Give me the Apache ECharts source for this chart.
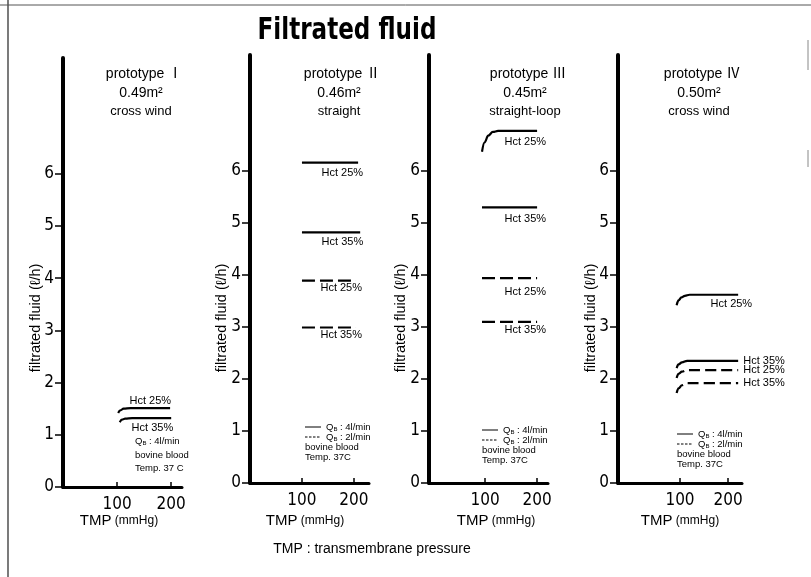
<!DOCTYPE html>
<html><head><meta charset="utf-8">
<script src="https://cdn.jsdelivr.net/npm/echarts@6/dist/echarts.min.js"></script>
<style>html,body{margin:0;padding:0;background:#fff}#c{width:811px;height:577px}</style>
</head><body><div id="c"></div>
<script>
// ---------- data ----------
const chartTitle = 'Filtrated fluid';
const panelNames = ['prototype Ⅰ', 'prototype Ⅱ', 'prototype Ⅲ', 'prototype Ⅳ'];
const panelAreas = ['0.49m²', '0.46m²', '0.45m²', '0.50m²'];
const panelTypes = ['cross wind', 'straight', 'straight-loop', 'cross wind'];
const xTickValues = [100, 200];
const yTickValues = [0, 1, 2, 3, 4, 5, 6];
const yAxisName = 'filtrated fluid (ℓ/h)';
const footnote = 'TMP : transmembrane pressure';

// [TMP mmHg, filtrated fluid l/h]
const p1Hct25Qb4 = [[102, 1.42], [106, 1.47], [112, 1.50], [125, 1.51], [198, 1.51]];
const p1Hct35Qb4 = [[105, 1.24], [109, 1.29], [115, 1.31], [128, 1.32], [200, 1.32]];
const p2Hct25Qb4 = [[100, 6.16], [208, 6.16]];
const p2Hct35Qb4 = [[100, 4.82], [212, 4.82]];
const p2Hct25Qb2 = [[100, 3.89], [204, 3.89]];
const p2Hct35Qb2 = [[100, 2.99], [204, 2.99]];
const p3Hct25Qb4 = [[94, 6.37], [99, 6.55], [106, 6.68], [115, 6.75], [125, 6.77], [200, 6.77]];
const p3Hct35Qb4 = [[94, 5.30], [200, 5.30]];
const p3Hct25Qb2 = [[94, 3.94], [200, 3.94]];
const p3Hct35Qb2 = [[94, 3.10], [200, 3.10]];
const p4Hct25Qb4 = [[93, 3.42], [97, 3.51], [103, 3.57], [110, 3.60], [120, 3.62], [221, 3.62]];
const p4Hct35Qb4 = [[93, 2.21], [97, 2.28], [104, 2.32], [115, 2.35], [221, 2.35]];
const p4Hct25Qb2 = [[93, 2.02], [97, 2.10], [104, 2.14], [115, 2.17], [221, 2.17]];
const p4Hct35Qb2 = [[93, 1.73], [97, 1.82], [104, 1.88], [115, 1.92], [221, 1.92]];

// ---------- layout / style ----------
const TXT = '"Liberation Sans", Arial, "Noto Sans CJK JP", sans-serif';
const NARROW = '"Liberation Sans Narrow", "DejaVu Sans Condensed", "Roboto Condensed", "Liberation Sans", sans-serif';
const grids = [
  { left: 63, top: 58, width: 119, height: 429 },
  { left: 250, top: 55, width: 119, height: 428 },
  { left: 429, top: 55, width: 119, height: 428 },
  { left: 618, top: 55, width: 124, height: 428 }
];
const xRange = [[0, 220], [0, 229], [-8, 221], [-29, 229]];
const yMax = [8.22, 8.23, 8.23, 8.23];
const titleCx = [144, 342, 528, 702];
const yNameX = [36, 222, 401, 591];
const xNameCx = [119, 305, 496, 680];

const seriesDefs = [
  { p: 0, d: p1Hct25Qb4, t: 'Hct 25%', dash: false, lab: { position: 'top', distance: 2, offset: [1, 0], align: 'right' } },
  { p: 0, d: p1Hct35Qb4, t: 'Hct 35%', dash: false, lab: { position: 'bottom', distance: 4, offset: [2, 0], align: 'right' } },
  { p: 1, d: p2Hct25Qb4, t: 'Hct 25%', dash: false, lab: { position: 'bottom', distance: 5, offset: [5, 0], align: 'right' } },
  { p: 1, d: p2Hct35Qb4, t: 'Hct 35%', dash: false, lab: { position: 'bottom', distance: 4, offset: [3, 0], align: 'right' } },
  { p: 1, d: p2Hct25Qb2, t: 'Hct 25%', dash: true, lab: { position: 'bottom', distance: 2, offset: [6, 0], align: 'right' } },
  { p: 1, d: p2Hct35Qb2, t: 'Hct 35%', dash: true, lab: { position: 'bottom', distance: 2, offset: [6, 0], align: 'right' } },
  { p: 2, d: p3Hct25Qb4, t: 'Hct 25%', dash: false, lab: { position: 'bottom', distance: 5, offset: [9, 0], align: 'right' } },
  { p: 2, d: p3Hct35Qb4, t: 'Hct 35%', dash: false, lab: { position: 'bottom', distance: 6, offset: [9, 0], align: 'right' } },
  { p: 2, d: p3Hct25Qb2, t: 'Hct 25%', dash: true, lab: { position: 'bottom', distance: 8, offset: [9, 0], align: 'right' } },
  { p: 2, d: p3Hct35Qb2, t: 'Hct 35%', dash: true, lab: { position: 'bottom', distance: 3, offset: [9, 0], align: 'right' } },
  { p: 3, d: p4Hct25Qb4, t: 'Hct 25%', dash: false, lab: { position: 'bottom', distance: 4, offset: [14, 0], align: 'right' } },
  { p: 3, d: p4Hct35Qb4, t: 'Hct 35%', dash: false, lab: { position: 'right', distance: 5, offset: [0, 0] } },
  { p: 3, d: p4Hct25Qb2, t: 'Hct 25%', dash: true, lab: { position: 'right', distance: 5, offset: [0, 0] } },
  { p: 3, d: p4Hct35Qb2, t: 'Hct 35%', dash: true, lab: { position: 'right', distance: 5, offset: [0, 0] } }
];

const xAxes = grids.map((g, i) => ({
  type: 'value', gridIndex: i, min: xRange[i][0], max: xRange[i][1],
  splitLine: { show: false },
  axisLine: { show: true, onZero: false, lineStyle: { color: '#000', width: 3 } },
  axisTick: { show: true, inside: true, length: 5, customValues: xTickValues, lineStyle: { color: '#000', width: 1.5 } },
  axisLabel: { show: true, customValues: xTickValues, margin: 9, color: '#000', fontSize: 17, fontFamily: NARROW }
}));
const yAxes = grids.map((g, i) => ({
  type: 'value', gridIndex: i, min: 0, max: yMax[i],
  splitLine: { show: false },
  axisLine: { show: true, onZero: false, lineStyle: { color: '#000', width: 4 } },
  axisTick: { show: true, length: 8, customValues: yTickValues, lineStyle: { color: '#000', width: 1.5 } },
  axisLabel: { show: true, customValues: yTickValues, margin: 9, color: '#000', fontSize: 17, fontFamily: NARROW }
}));

const series = seriesDefs.map(s => ({
  type: 'line', xAxisIndex: s.p, yAxisIndex: s.p,
  smooth: s.d.length > 2 ? 0.4 : false, smoothMonotone: 'x',
  symbol: 'circle', symbolSize: 0.1, showSymbol: true, silent: true, animation: false,
  lineStyle: { color: '#000', width: 2.2, type: s.dash ? (s.p === 3 ? [11, 5] : [13, 5]) : 'solid' },
  itemStyle: { color: '#000' },
  data: s.d.map((pt, k) => k === s.d.length - 1
    ? { value: pt, label: Object.assign({ show: true, formatter: s.t, color: '#000', fontSize: 11, fontFamily: TXT }, s.lab) }
    : pt)
}));

// graphic texts
const gfx = [];
gfx.push({ type: 'line', shape: { x1: 8, y1: 0, x2: 8, y2: 577 }, style: { stroke: '#222', lineWidth: 1.2 } });
gfx.push({ type: 'line', shape: { x1: 0, y1: 5, x2: 811, y2: 5 }, style: { stroke: '#555', lineWidth: 1 } });
gfx.push({ type: 'line', shape: { x1: 808, y1: 40, x2: 808, y2: 70 }, style: { stroke: '#888', lineWidth: 1 } });
gfx.push({ type: 'line', shape: { x1: 808, y1: 150, x2: 808, y2: 167 }, style: { stroke: '#888', lineWidth: 1 } });
gfx.push({ type: 'text', x: 347, y: 31, scaleX: 0.77,
  style: { text: chartTitle, x: 0, y: 0, textAlign: 'center', textVerticalAlign: 'middle', fill: '#000', font: 'bold 30px "DejaVu Sans", sans-serif' } });
gfx.push({ type: 'text', style: { text: footnote, x: 372, y: 549, textAlign: 'center', textVerticalAlign: 'middle', fill: '#000', font: '14px ' + TXT } });
for (let i = 0; i < 4; i++) {
  const cx = titleCx[i];
  gfx.push({ type: 'text', style: { text: panelNames[i], x: cx, y: 74, textAlign: 'center', textVerticalAlign: 'middle', fill: '#000', font: '14px ' + TXT } });
  gfx.push({ type: 'text', style: { text: panelAreas[i], x: cx - 3, y: 93, textAlign: 'center', textVerticalAlign: 'middle', fill: '#000', font: '14px ' + TXT } });
  gfx.push({ type: 'text', style: { text: panelTypes[i], x: cx - 3, y: 111, textAlign: 'center', textVerticalAlign: 'middle', fill: '#000', font: '13px ' + TXT } });
  gfx.push({ type: 'text', rotation: Math.PI / 2, x: yNameX[i], y: 318,
    style: { text: yAxisName, x: 0, y: 0, textAlign: 'center', textVerticalAlign: 'middle', fill: '#000', font: '14.5px ' + TXT } });
  gfx.push({ type: 'text', style: { text: '{a|TMP} {b|(mmHg)}', x: xNameCx[i], y: 521, textAlign: 'center', textVerticalAlign: 'middle', fill: '#000',
    rich: { a: { fontSize: 15, fontFamily: TXT, fill: '#000' }, b: { fontSize: 12, fontFamily: TXT, fill: '#000' } } } });
}
// conditions legend
const legendX = [135, 305, 482, 677];
const legendY0 = [441, 427, 430, 434];
const rich = { q: { fontSize: 9.5, fontFamily: TXT, fill: '#000' }, s: { fontSize: 6, fontFamily: TXT, fill: '#000', verticalAlign: 'bottom', padding: [4, 0, 0, 0] } };
// panel 1: text only
gfx.push({ type: 'text', style: { text: '{q|Q}{s|B}{q| : 4l/min}', x: legendX[0], y: legendY0[0], textVerticalAlign: 'middle', rich } });
gfx.push({ type: 'text', style: { text: 'bovine blood', x: legendX[0], y: legendY0[0] + 14, textVerticalAlign: 'middle', fill: '#000', font: '9.5px ' + TXT } });
gfx.push({ type: 'text', style: { text: 'Temp. 37 C', x: legendX[0], y: legendY0[0] + 27, textVerticalAlign: 'middle', fill: '#000', font: '9.5px ' + TXT } });
for (let i = 1; i < 4; i++) {
  const x = legendX[i], y = legendY0[i];
  gfx.push({ type: 'line', shape: { x1: x, y1: y, x2: x + 16, y2: y }, style: { stroke: '#000', lineWidth: 1 } });
  gfx.push({ type: 'line', shape: { x1: x, y1: y + 10, x2: x + 16, y2: y + 10 }, style: { stroke: '#000', lineWidth: 1, lineDash: [2.5, 1.5] } });
  gfx.push({ type: 'text', style: { text: '{q|Q}{s|B}{q| : 4l/min}', x: x + 21, y: y, textVerticalAlign: 'middle', rich } });
  gfx.push({ type: 'text', style: { text: '{q|Q}{s|B}{q| : 2l/min}', x: x + 21, y: y + 10, textVerticalAlign: 'middle', rich } });
  gfx.push({ type: 'text', style: { text: 'bovine blood', x: x, y: y + 20, textVerticalAlign: 'middle', fill: '#000', font: '9.5px ' + TXT } });
  gfx.push({ type: 'text', style: { text: 'Temp. 37C', x: x, y: y + 30, textVerticalAlign: 'middle', fill: '#000', font: '9.5px ' + TXT } });
}

const chart = echarts.init(document.getElementById('c'));
chart.setOption({
  animation: false,
  backgroundColor: '#fff',
  grid: grids,
  xAxis: xAxes,
  yAxis: yAxes,
  series: series,
  graphic: gfx
});
</script></body></html>
